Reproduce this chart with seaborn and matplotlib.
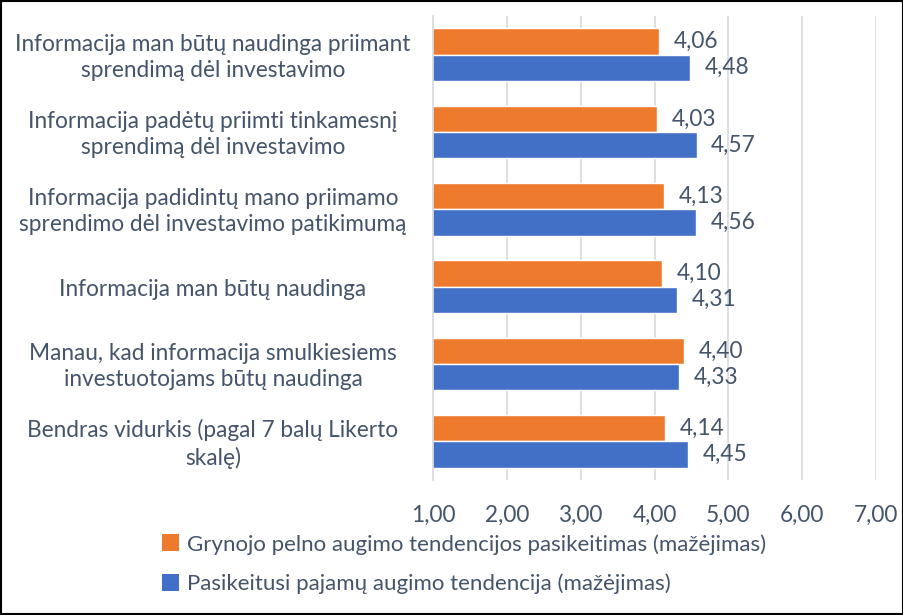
import matplotlib
matplotlib.use("Agg")
import matplotlib.pyplot as plt
import matplotlib.transforms as mtransforms
import seaborn as sns
import pandas as pd
from matplotlib.patches import Patch

categories = [
    "Informacija man būtų naudinga priimant\nsprendimą dėl investavimo",
    "Informacija padėtų priimti tinkamesnį\nsprendimą dėl investavimo",
    "Informacija padidintų mano priimamo\nsprendimo dėl investavimo patikimumą",
    "Informacija man būtų naudinga",
    "Manau, kad informacija smulkiesiems\ninvestuotojams būtų naudinga",
    "Bendras vidurkis (pagal 7 balų Likerto\nskalę)",
]
series_names = [
    "Grynojo pelno augimo tendencijos pasikeitimas (mažėjimas)",
    "Pasikeitusi pajamų augimo tendencija (mažėjimas)",
]
orange_values = [4.06, 4.03, 4.13, 4.10, 4.40, 4.14]
blue_values = [4.48, 4.57, 4.56, 4.31, 4.33, 4.45]
x_ticks = [1, 2, 3, 4, 5, 6, 7]

colors = ["#EE7A2E", "#4270C6"]
text_color = "#44546A"
fs = 16.3

sns.set_theme(style="white")
plt.rcParams["font.family"] = ["Lato", "DejaVu Sans"]

df = pd.DataFrame({
    "category": categories * 2,
    "series": [series_names[0]] * len(categories) + [series_names[1]] * len(categories),
    "value": orange_values + blue_values,
})

fig = plt.figure(figsize=(9.04, 6.15), dpi=100)
ax = fig.add_axes([433 / 904, 1 - 480 / 615, (876 - 433) / 904, (480 - 16) / 615])

sns.barplot(data=df, y="category", x="value", hue="series", order=categories,
            hue_order=series_names, palette=colors, orient="h", width=0.68,
            ax=ax, legend=False, saturation=1)

ax.set_xlim(1, 7)
ax.set_xticks(x_ticks)
ax.set_xticklabels([f"{t:.2f}".replace(".", ",") for t in x_ticks])
ax.set_xlabel("")
ax.set_ylabel("")
ax.grid(axis="x", color="#D9DDE3", linewidth=1.3)
ax.set_axisbelow(True)
for s in ["top", "right", "bottom"]:
    ax.spines[s].set_visible(False)
ax.spines["left"].set_color("#D9DDE3")
ax.spines["left"].set_linewidth(1.3)
ax.tick_params(axis="x", length=0, pad=18, labelsize=fs, labelcolor=text_color)
ax.tick_params(axis="y", length=0, labelleft=False)

# category labels, centered in the left margin
trans = mtransforms.blended_transform_factory(fig.transFigure, ax.transData)
shift = mtransforms.ScaledTranslation(0, -2.5 / 100, fig.dpi_scale_trans)
for i, cat in enumerate(categories):
    ax.text(213 / 904, i, cat, transform=trans + shift, ha="center", va="center",
            multialignment="center", fontsize=fs, color=text_color, linespacing=1.3)

lab_shift = mtransforms.ScaledTranslation(0, -3 / 100, fig.dpi_scale_trans)
for cont in ax.containers:
    texts = ax.bar_label(cont, labels=[f"{v:.2f}".replace(".", ",") for v in cont.datavalues],
                         padding=10.5, fontsize=fs, color=text_color)
    for t in texts:
        t.set_transform(t.get_transform() + lab_shift)

handles = [Patch(facecolor=c, edgecolor="none") for c in colors]
fig.legend(handles, series_names, loc="center", bbox_to_anchor=(464 / 904, 1 - 564 / 615),
           ncol=1, frameon=False, fontsize=16, labelcolor=text_color,
           handlelength=0.8, handleheight=0.8, handletextpad=0.35, labelspacing=0.85)

fig.patches.append(plt.Rectangle((0.0015, 0.002), 0.997, 0.996, transform=fig.transFigure,
                                 fill=False, edgecolor="black", linewidth=1.5))

fig.savefig("out.png", dpi=100)
